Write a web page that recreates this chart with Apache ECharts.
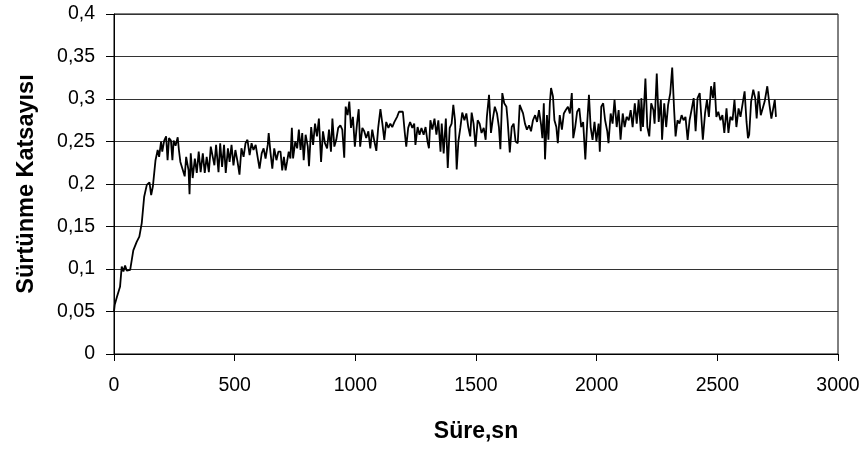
<!DOCTYPE html>
<html>
<head>
<meta charset="utf-8">
<script src="https://cdn.jsdelivr.net/npm/echarts@6/dist/echarts.min.js"></script>
<style>html,body{margin:0;padding:0;background:#fff}#c{width:868px;height:449px}</style>
</head>
<body>
<div id="c"></div>
<script>
// [süre (sn), sürtünme katsayısı]
const ramp = [[0,0.050],[3,0.058],[12,0.067],[25,0.079],[32,0.103],[39,0.097],[46,0.104],[53,0.098],[60,0.100],[67,0.099],[74,0.098],[80,0.122],[87,0.120],[94,0.132],[105,0.138],[115,0.154],[125,0.185],[136,0.199],[147,0.202],[154,0.187],[161,0.197],[172,0.228],[181,0.240],[187,0.232],[195,0.250],[200,0.238],[208,0.251],[216,0.256],[222,0.228],[228,0.254],[236,0.251],[242,0.228],[247,0.251],[255,0.245],[264,0.255],[269,0.240],[275,0.226]];
const segA = [[283,0.226],[293,0.209],[299,0.232],[309,0.216],[313,0.188],[318,0.236],[326,0.207],[335,0.230],[343,0.213],[351,0.238],[359,0.214],[368,0.236],[376,0.213],[384,0.232],[393,0.214],[401,0.244],[409,0.246],[416,0.222],[423,0.246],[433,0.214],[440,0.248],[448,0.220],[456,0.246],[463,0.213],[472,0.242],[479,0.226],[487,0.246],[495,0.222],[503,0.240],[512,0.226],[520,0.211],[528,0.242],[537,0.232],[545,0.248],[553,0.252],[562,0.234],[570,0.248],[578,0.240],[587,0.246],[595,0.232],[603,0.218],[612,0.236],[620,0.242],[628,0.230],[637,0.246],[641,0.260],[648,0.238],[656,0.218],[664,0.242],[673,0.228],[681,0.238]];
const segB = [[690,0.238],[697,0.216],[704,0.232],[711,0.216],[717,0.226],[724,0.238],[731,0.230],[737,0.266],[742,0.230],[751,0.250],[759,0.242],[766,0.264],[773,0.240],[780,0.260],[786,0.228],[794,0.258],[803,0.244],[808,0.221],[817,0.267],[825,0.246],[833,0.271],[841,0.256],[849,0.277],[858,0.226],[866,0.262],[874,0.248],[883,0.242],[891,0.264],[899,0.238],[905,0.277],[913,0.244],[921,0.252],[929,0.266],[938,0.269],[946,0.264],[954,0.231],[960,0.291],[968,0.281],[975,0.297],[982,0.266],[990,0.279],[998,0.244],[1007,0.271],[1014,0.288],[1020,0.244],[1029,0.266],[1037,0.262],[1045,0.254],[1054,0.262],[1062,0.242],[1070,0.264],[1079,0.250],[1087,0.239],[1095,0.267],[1104,0.288],[1112,0.271],[1120,0.252],[1128,0.273],[1137,0.266],[1145,0.271],[1153,0.267],[1162,0.273],[1173,0.279],[1181,0.285]];
const segC = [[1188,0.287],[1197,0.285],[1205,0.260],[1211,0.244],[1219,0.266],[1227,0.273],[1236,0.266],[1244,0.271],[1249,0.246],[1258,0.267],[1266,0.258],[1274,0.266],[1283,0.258],[1291,0.267],[1299,0.250],[1305,0.242],[1311,0.275],[1319,0.264],[1328,0.277],[1336,0.258],[1344,0.275],[1353,0.238],[1358,0.271],[1366,0.236],[1375,0.277],[1383,0.219],[1391,0.266],[1399,0.271],[1406,0.293],[1413,0.275],[1420,0.217],[1427,0.250],[1435,0.266],[1443,0.284],[1452,0.275],[1460,0.283],[1468,0.267],[1476,0.256],[1482,0.284],[1490,0.271],[1498,0.244],[1507,0.275],[1515,0.271],[1523,0.260],[1532,0.266],[1540,0.252],[1545,0.279],[1554,0.305],[1562,0.260],[1570,0.277],[1578,0.291],[1587,0.283],[1595,0.267],[1601,0.241],[1609,0.307],[1617,0.295],[1626,0.291],[1631,0.275],[1640,0.237],[1648,0.267],[1656,0.271],[1664,0.250],[1673,0.248],[1681,0.293]];
const segD = [[1687,0.295],[1695,0.283],[1703,0.271],[1711,0.264],[1720,0.269],[1728,0.262],[1736,0.275],[1745,0.281],[1753,0.273],[1761,0.287],[1770,0.269],[1775,0.254],[1781,0.295],[1786,0.229],[1794,0.281],[1800,0.252],[1806,0.295],[1811,0.313],[1819,0.303],[1825,0.275],[1833,0.267],[1839,0.248],[1847,0.281],[1856,0.264],[1864,0.283],[1872,0.287],[1881,0.291],[1889,0.283],[1897,0.307],[1903,0.254],[1911,0.267],[1919,0.285],[1928,0.289],[1936,0.267],[1944,0.273],[1953,0.229],[1961,0.273],[1968,0.305],[1975,0.267],[1983,0.252],[1991,0.273],[1999,0.250],[2008,0.271],[2013,0.238],[2019,0.291],[2027,0.295],[2035,0.275],[2044,0.262],[2049,0.248],[2058,0.283],[2066,0.271],[2074,0.299],[2083,0.267],[2091,0.287],[2099,0.252],[2108,0.283],[2116,0.267],[2124,0.279],[2133,0.275],[2141,0.287],[2149,0.267],[2158,0.295],[2166,0.271],[2174,0.299],[2183,0.262]];
const segE = [[2185,0.301],[2192,0.267],[2202,0.324],[2210,0.267],[2218,0.256],[2226,0.295],[2235,0.287],[2240,0.271],[2249,0.330],[2257,0.273],[2266,0.299],[2271,0.252],[2280,0.295],[2288,0.267],[2296,0.293],[2305,0.307],[2313,0.337],[2321,0.287],[2327,0.256],[2335,0.275],[2343,0.271],[2352,0.281],[2360,0.275],[2368,0.279],[2377,0.252],[2385,0.275],[2393,0.287],[2402,0.301],[2410,0.262],[2418,0.301],[2427,0.307],[2435,0.309],[2440,0.252],[2449,0.283],[2457,0.299],[2465,0.279],[2474,0.315],[2482,0.301],[2488,0.320],[2496,0.279],[2504,0.285],[2513,0.275],[2521,0.281],[2529,0.260],[2538,0.289],[2546,0.260],[2554,0.279],[2563,0.275],[2571,0.299],[2579,0.267],[2588,0.289],[2596,0.279],[2604,0.293],[2613,0.309],[2621,0.273],[2627,0.254],[2632,0.258],[2640,0.297],[2649,0.311],[2657,0.301],[2663,0.277],[2671,0.309],[2680,0.281],[2688,0.283],[2696,0.297],[2707,0.315],[2716,0.293],[2724,0.277],[2732,0.277],[2738,0.299],[2743,0.279]];

const xTitle = 'Süre,sn';
const yTitle = 'Sürtünme Katsayısı';

const data = [].concat(ramp, segA, segB, segC, segD, segE);
const font = "'Liberation Sans', Arial, sans-serif";

const chart = echarts.init(document.getElementById('c'), null, {renderer: 'canvas'});
chart.setOption({
  animation: false,
  backgroundColor: '#fff',
  grid: {left: 114, right: 30, top: 14, bottom: 95, show: true, borderColor: '#000', borderWidth: 1, containLabel: false},
  xAxis: {
    type: 'value', min: 0, max: 3000, interval: 500,
    name: xTitle, nameLocation: 'middle', nameGap: 66,
    nameTextStyle: {fontFamily: font, fontSize: 23, fontWeight: 'bold', color: '#000'},
    axisLine: {show: true, lineStyle: {color: '#000', width: 1}},
    axisTick: {show: true, inside: false, length: 7, lineStyle: {color: '#000'}},
    axisLabel: {fontFamily: font, fontSize: 19.5, color: '#000', margin: 22,
      formatter: v => String(v)},
    splitLine: {show: false}
  },
  yAxis: {
    type: 'value', min: 0, max: 0.4, interval: 0.05,
    name: yTitle, nameLocation: 'middle', nameGap: 75, nameRotate: 90,
    nameTextStyle: {fontFamily: font, fontSize: 23.5, fontWeight: 'bold', color: '#000'},
    axisLine: {show: true, lineStyle: {color: '#000', width: 1}},
    axisTick: {show: true, inside: false, length: 8, lineStyle: {color: '#000'}},
    axisLabel: {fontFamily: font, fontSize: 19.5, color: '#000', margin: 19,
      formatter: v => String(+v.toFixed(2)).replace('.', ',')},
    splitLine: {show: true, lineStyle: {color: '#333', width: 1}}
  },
  series: [{
    type: 'line', data: data, showSymbol: false, symbol: 'none',
    lineStyle: {color: '#000', width: 1.8}, z: 3
  }]
});
</script>
</body>
</html>
